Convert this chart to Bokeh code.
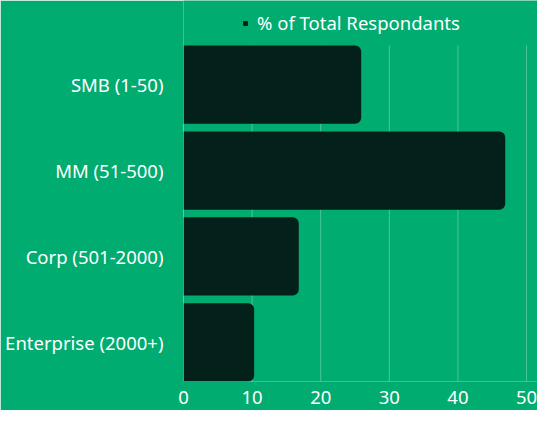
from bokeh.plotting import figure
from bokeh.models import Range1d, FixedTicker, ColumnDataSource, Legend, LegendItem
from bokeh.embed import file_html
from bokeh.resources import INLINE

categories = ["SMB (1-50)", "MM (51-500)", "Corp (501-2000)", "Enterprise (2000+)"]
pct_total = [25.9, 46.9, 16.8, 10.3]
series_name = "% of Total Respondants"
x_ticks = [0, 10, 20, 30, 40, 50]

BG = "#00AC6F"
BAR = "#04201A"
FONT = "Noto Sans"
BAR_H = 0.9111
TOP_PAD = 0.524   # room above the bars for the legend
X_END = 51.6      # axis runs a little past the last tick, to the edge

n = len(categories)
ypos = [n - 1 - i for i in range(n)]
src = ColumnDataSource(dict(y=ypos, v=pct_total, cat=categories))

y_lo = min(ypos) - BAR_H / 2
y_hi = max(ypos) + BAR_H / 2

p = figure(width=537, height=410, output_backend="svg", toolbar_location=None,
           x_range=Range1d(0, X_END), y_range=Range1d(y_lo, y_hi + TOP_PAD),
           min_border_left=183, min_border_right=0, min_border_top=0, min_border_bottom=29)
p.background_fill_color = BG
p.border_fill_color = BG
p.outline_line_color = None

# vertical grid lines, limited to the bar area
p.segment(x0=x_ticks, x1=x_ticks, y0=[y_lo] * len(x_ticks), y1=[y_hi] * len(x_ticks),
          line_color="white", line_alpha=0.3, line_width=1)

r = p.hbar(y="y", right="v", left=0, height=BAR_H, source=src, fill_color=BAR,
           line_color=None, border_radius=(0, 6, 6, 0))

p.xaxis.ticker = FixedTicker(ticks=x_ticks)
p.yaxis.ticker = FixedTicker(ticks=ypos)
p.yaxis.major_label_overrides = {y: c for y, c in zip(ypos, categories)}
for ax in (p.xaxis[0], p.yaxis[0]):
    ax.axis_line_color = None
    ax.major_tick_line_color = None
    ax.minor_tick_line_color = None
    ax.major_label_text_color = "white"
    ax.major_label_text_font = FONT
    ax.major_label_text_font_size = "18.5px"
p.yaxis.major_label_standoff = 14
p.xaxis.major_label_standoff = 3

p.xgrid.grid_line_color = None
p.ygrid.grid_line_color = None

legend = Legend(items=[LegendItem(label=series_name, renderers=[r])],
                orientation="horizontal", location=(59, 346),
                background_fill_alpha=0, border_line_color=None,
                glyph_width=6, glyph_height=6, label_standoff=9,
                label_text_color="white", label_text_font=FONT,
                label_text_font_size="18.5px", padding=2, margin=0, spacing=0)
p.add_layout(legend, "center")

open("out.html", "w").write(file_html(p, INLINE))
